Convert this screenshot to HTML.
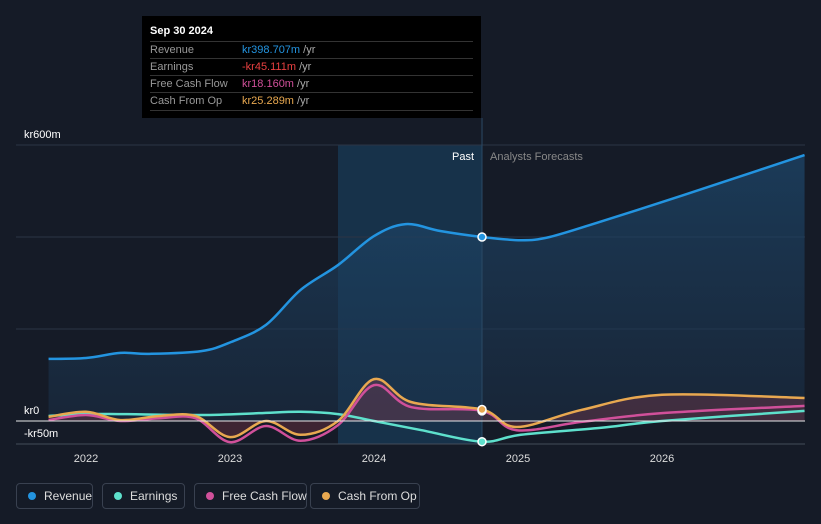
<!DOCTYPE html>
<html><head><meta charset="utf-8"><style>
body{margin:0;background:#151b27;font-family:"Liberation Sans",sans-serif;}
#wrap{position:relative;width:821px;height:524px;overflow:hidden;background:#151b27;}
.tt{position:absolute;left:142px;top:16px;width:339px;height:102px;background:#000;color:#fff;font-size:11px;}
.tt .h{position:absolute;left:8px;top:9px;font-weight:bold;}
.tt .r{position:absolute;left:8px;width:323px;height:17px;border-top:1px solid #333;line-height:17px;color:#999;}
.tt .r span{position:absolute;left:92px;}
.lg{position:absolute;top:483px;height:26px;border:1px solid #394150;border-radius:4px;color:#ddd;font-size:12px;line-height:24px;box-sizing:border-box;white-space:nowrap;}
.lg i{display:inline-block;width:8px;height:8px;border-radius:50%;margin:0 8px 0 11px;}
</style></head><body><div id="wrap">
<svg id="svg" width="821" height="524" style="position:absolute;left:0;top:0"></svg>
<div class="tt">
<div class="h">Sep 30 2024</div>
<div class="r" style="top:25px">Revenue<span style="color:#2394e0">kr398.707m <em style="font-style:normal;color:#aaa">/yr</em></span></div>
<div class="r" style="top:42px">Earnings<span style="color:#e84040">-kr45.111m <em style="font-style:normal;color:#aaa">/yr</em></span></div>
<div class="r" style="top:59px">Free Cash Flow<span style="color:#d0509a">kr18.160m <em style="font-style:normal;color:#aaa">/yr</em></span></div>
<div class="r" style="top:76px;border-bottom:1px solid #333">Cash From Op<span style="color:#e8a850">kr25.289m <em style="font-style:normal;color:#aaa">/yr</em></span></div>
</div>
<div class="lg" style="left:16px;width:77px"><i style="background:#2394e0"></i>Revenue</div>
<div class="lg" style="left:102px;width:83px"><i style="background:#5ee0cc"></i>Earnings</div>
<div class="lg" style="left:194px;width:113px"><i style="background:#d0509a"></i>Free Cash Flow</div>
<div class="lg" style="left:310px;width:110px"><i style="background:#e8a850"></i>Cash From Op</div>
</div>
<script>
const revT=[2021.74,2022,2022.24,2022.44,2022.8,2023.01,2023.25,2023.49,2023.75,2024,2024.22,2024.46,2024.75,2025.02,2025.22,2025.57,2026,2026.4,2026.99];
const revV=[135,137,148,146,152,172,209,285,339,402,428,413,400,393,400,433,476,517,578];
const earT=[2021.74,2022,2022.24,2022.8,2023.2,2023.49,2023.75,2024,2024.33,2024.75,2025.02,2025.57,2026,2026.99];
const earV=[11,15,15,13,17,20,15,0,-20,-45,-30,-15,0,22];
const fcfT=[2021.74,2022,2022.24,2022.51,2022.76,2023,2023.25,2023.49,2023.75,2024,2024.26,2024.75,2024.99,2025.44,2026,2026.99];
const fcfV=[2,13,0,6,6,-46,-11,-43,-9,78,30,22,-20,-2,17,33];
const cfoT=[2021.74,2022,2022.24,2022.51,2022.76,2023,2023.25,2023.49,2023.75,2024,2024.26,2024.75,2024.99,2025.44,2026,2026.99];
const cfoV=[9,20,2,11,11,-35,0,-30,0,91,41,25,-13,24,57,50];
const yTicks=[600,0,-50];
const yLabels=["kr600m","kr0","-kr50m"];
const xYears=[2022,2023,2024,2025,2026];
const nowT=2024.75;
const X=t=>86+(t-2022)*144;
const Y=v=>421-v*0.46;
const svg=document.getElementById('svg');
const NS='http://www.w3.org/2000/svg';
function el(tag,a){const e=document.createElementNS(NS,tag);for(const k in a)e.setAttribute(k,a[k]);svg.appendChild(e);return e;}
function path(T,V){const p=T.map((t,i)=>[X(t),Y(V[i])]);let d='M'+p[0][0]+','+p[0][1];
for(let i=0;i<p.length-1;i++){const p0=p[i-1]||p[i],p1=p[i],p2=p[i+1],p3=p[i+2]||p2;
d+=` C${p1[0]+(p2[0]-p0[0])/6},${p1[1]+(p2[1]-p0[1])/6} ${p2[0]-(p3[0]-p1[0])/6},${p2[1]-(p3[1]-p1[1])/6} ${p2[0]},${p2[1]}`;}return d;}
const defs=el('defs',{});
defs.innerHTML='<linearGradient id="g" x1="0" y1="0" x2="0" y2="1"><stop offset="0" stop-color="#1e4a70" stop-opacity="0.8"/><stop offset="1" stop-color="#1b3048" stop-opacity="0.6"/></linearGradient>';
let r=el('rect',{x:X(2023.75),y:145,width:X(nowT)-X(2023.75),height:299,fill:'#17324a'});

[600,200,400].forEach(v=>{const l=el('line',{x1:16,x2:805,y1:Y(v),y2:Y(v),stroke:'#2c3444'});});
const ra=el('path',{d:path(revT,revV)+` L${X(revT[revT.length-1])},${Y(0)} L${X(revT[0])},${Y(0)} Z`,fill:'url(#g)',opacity:0.85});

const fa=el('path',{d:path(cfoT,cfoV)+` L${X(cfoT[cfoT.length-1])},${Y(0)} L${X(cfoT[0])},${Y(0)} Z`,fill:'#a04050',opacity:0.3});

yTicks.forEach((v,i)=>{
const t=el('text',{x:24,y:Y(v)-7,fill:'#fff','font-size':11});t.textContent=yLabels[i];
});
let ax=el('line',{x1:16,x2:805,y1:444,y2:444,stroke:'#444c5a'});
xYears.forEach(y=>{
const t=el('text',{x:X(y),y:462,fill:'#ddd','font-size':11,'text-anchor':'middle'});t.textContent=y;
});
let nl=el('line',{x1:X(nowT),x2:X(nowT),y1:118,y2:444,stroke:'#2a4a66'});
let t1=el('text',{x:X(nowT)-8,y:160,fill:'#fff','font-size':11,'text-anchor':'end'});t1.textContent='Past';
let t2=el('text',{x:X(nowT)+8,y:160,fill:'#888','font-size':11});t2.textContent='Analysts Forecasts';
const series=[[earT,earV,'#5ee0cc','earnings-line'],[fcfT,fcfV,'#d0509a','fcf-line'],[cfoT,cfoV,'#e8a850','cfo-line'],[revT,revV,'#2394e0','revenue-line']];
series.forEach(s=>{const p=el('path',{d:path(s[0],s[1]),fill:'none',stroke:s[2],'stroke-width':2.5});
});
let z=el('line',{x1:16,x2:805,y1:Y(0),y2:Y(0),stroke:'#e8e8e8','stroke-width':1});
series.forEach(s=>{const i=s[0].indexOf(nowT);if(i>=0){const c=el('circle',{cx:X(nowT),cy:Y(s[1][i]),r:4,fill:s[2],stroke:'#fff','stroke-width':1.5});
}});
</script></body></html>
